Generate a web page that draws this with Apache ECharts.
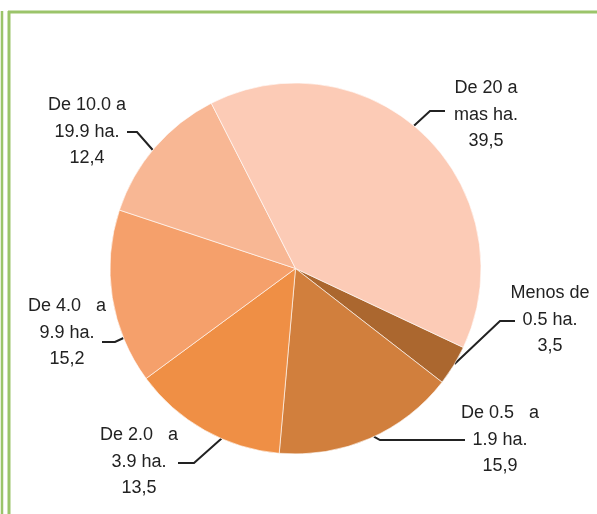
<!DOCTYPE html>
<html>
<head>
<meta charset="utf-8">
<style>
  html, body { margin: 0; padding: 0; background: #fff; }
  #chart { width: 597px; height: 514px; }
</style>
<script src="https://cdn.jsdelivr.net/npm/echarts@6/dist/echarts.min.js"></script>
</head>
<body>
<div id="chart"></div>
<script>
// categorias (superficie) y porcentajes
var categories = [
  "Menos de\n0.5 ha.",
  "De 0.5   a\n1.9 ha.",
  "De 2.0   a\n3.9 ha.",
  "De 4.0   a\n9.9 ha.",
  "De 10.0 a\n19.9 ha.",
  "De 20 a\nmas ha."
];
var values = [3.5, 15.9, 13.5, 15.2, 12.4, 39.5];
var colors = ["#AB672F", "#D17F3D", "#EF8F45", "#F5A06B", "#F8B794", "#FCCBB6"];

// posicion de las etiquetas: [x, y] centro del texto
var labelPos = [[550, 320], [500, 440], [139, 462], [67, 333], [87, 132], [486, 115]];
// linea guia: [angulo ancla, x codo, x final, y]
var leaders = [
  [-31, 500, 515, 321],
  [-65, 380, 465, 440],
  [-113.5, 194, 178, 463],
  [-158, 115, 102, 342],
  [140.3, 137, 127, 132],
  [50.3, 430, 445, 111]
];

var cx = 295.5, cy = 268.5, r = 185.5;
var green = "#9BC46A";

var chart = echarts.init(document.getElementById("chart"));
chart.setOption({
  animation: false,
  graphic: [
    { type: "line", shape: { x1: 2, y1: 11, x2: 2, y2: 514 }, style: { stroke: green, lineWidth: 2.5 } },
    { type: "line", shape: { x1: 9, y1: 11, x2: 9, y2: 514 }, style: { stroke: green, lineWidth: 3 } },
    { type: "line", shape: { x1: 8, y1: 12, x2: 597, y2: 12 }, style: { stroke: green, lineWidth: 3 } }
  ],
  series: [
    {
      type: "pie",
      center: [cx, cy],
      radius: r,
      startAngle: -25.2,
      clockwise: true,
      avoidLabelOverlap: false,
      itemStyle: { borderColor: "#fff", borderWidth: 0.6 },
      label: {
        show: true,
        position: "outside",
        color: "#222",
        fontFamily: "'Liberation Sans', Arial, sans-serif",
        fontSize: 18,
        lineHeight: 26.5,
        align: "center",
        formatter: function (p) {
          return p.name + "\n" + p.value.toFixed(1).replace(".", ",");
        }
      },
      labelLine: {
        show: true,
        length: 10,
        length2: 10,
        lineStyle: { color: "#222", width: 2 }
      },
      labelLayout: function (p) {
        var i = p.dataIndex;
        var ld = leaders[i];
        var a = ld[0] * Math.PI / 180;
        var ax = cx + r * Math.cos(a);
        var ay = cy - r * Math.sin(a);
        return {
          x: labelPos[i][0],
          y: labelPos[i][1],
          align: "center",
          verticalAlign: "middle",
          labelLinePoints: [[ax, ay], [ld[1], ld[3]], [ld[2], ld[3]]]
        };
      },
      data: categories.map(function (c, i) {
        return { name: c, value: values[i], itemStyle: { color: colors[i] } };
      })
    }
  ]
});
</script>
</body>
</html>
